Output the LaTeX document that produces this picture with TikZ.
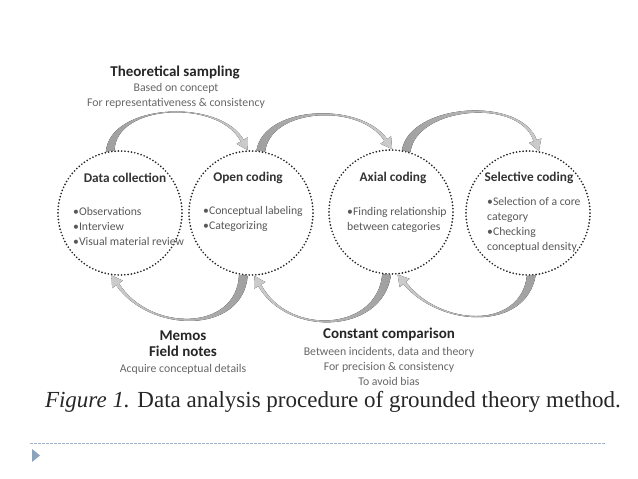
\documentclass[tikz,border=0pt]{standalone}
\usepackage{fontspec}
\setmainfont{Carlito}
\newfontfamily\capfont{Liberation Serif}
\usetikzlibrary{calc}

\definecolor{txtgray}{HTML}{585858}
\definecolor{subgray}{HTML}{666666}
\definecolor{slideblue}{HTML}{A3B4C6}
\definecolor{bulletblue}{HTML}{8CA3BC}

\tikzset{
  stage/.style={circle, minimum size=124pt, inner sep=0pt, draw=black!85,
    line width=1.9pt, dash pattern=on 0pt off 3.3pt, line cap=round},
  stagetitle/.style={font=\bfseries\fontsize{13.3}{15}\selectfont, text=black!80, inner sep=0pt},
  stagelist/.style={font=\fontsize{11.7}{15}\selectfont, text=txtgray, align=left,
    inner sep=0pt, anchor=west},
  headline/.style={font=\bfseries\fontsize{15}{16}\selectfont, text=black!85,
    inner sep=0pt, align=center},
  subline/.style={font=\fontsize{11.8}{15}\selectfont, text=subgray, inner sep=0pt, align=center},
  topfill/.style={left color=gray!75, right color=gray!40},
  botfill/.style={left color=gray!40, right color=gray!75},
}

% tapered arrow: [fill], start outer, start inner, out angle, tip, in angle, looseness
\newcommand{\swoosh}[7][]{%
  \pgfmathsetmacro\innerloose{#7*1.06}%
  \fill[#1] (#2) to[out=#4,in=#6,looseness=#7] ([shift={(#6:11)},shift={({#6-90}:1.7)}]#5)
    -- ([shift={(#6:11)},shift={({#6-90}:6.5)}]#5) -- (#5)
    -- ([shift={(#6:11)},shift={({#6+90}:6.5)}]#5)
    -- ([shift={(#6:11)},shift={({#6+90}:1.7)}]#5)
    to[out={#6-3},in={#4+3},looseness=\innerloose] (#3) -- cycle;}

\begin{document}
\begin{tikzpicture}[x=1pt,y=1pt]
\useasboundingbox (0,0) rectangle (638,479);
% the four stages
\node[stage] (collect) at (120,266) {};
\node[stage] (open) at (251,266) {};
\node[stage] (axial) at (391,267) {};
\node[stage] (selective) at (528,266) {};
\node[stagetitle] (collect-t) at ([shift={(5,35)}]collect.center) {Data collection};
\node[stagetitle] (open-t) at ([shift={(-3,35)}]open.center) {Open coding};
\node[stagetitle] (axial-t) at ([shift={(2,34)}]axial.center) {Axial coding};
\node[stagetitle] (selective-t) at ([shift={(1,35)}]selective.center) {Selective coding};
\node[stagelist] (collect-l) at ([shift={(-47,-13)}]collect.center)
  {•Observations\\•Interview\\•Visual material review};
\node[stagelist] (open-l) at ([shift={(-48,-5.5)}]open.center)
  {•Conceptual labeling\\•Categorizing};
\node[stagelist] (axial-l) at ([shift={(-44,-7.5)}]axial.center)
  {•Finding relationship\\between categories};
\node[stagelist] (selective-l) at ([shift={(-41,-12)}]selective.center)
  {•Selection of a core\\category\\•Checking\\conceptual density};
% arrows over the top
\swoosh[topfill]{collect.103}{collect.95}{85}{open.93}{120}{0.9}
\swoosh[topfill]{open.85}{open.77}{80}{axial.89}{125}{0.9}
\swoosh[topfill]{axial.80}{axial.72}{80}{selective.80}{110}{0.9}
% arrows underneath
\swoosh[botfill]{open.267}{open.259}{265}{collect.262}{-55}{1.15}
\swoosh[botfill]{axial.270}{axial.262}{262}{open.273}{-60}{1.15}
\swoosh[botfill]{selective.277}{selective.269}{260}{axial.276}{-50}{1.1}
% labels
\node[headline] (theo) at (175,406) {Theoretical sampling};
\node[subline] (theo-sub) at (176,383) {Based on concept\\For representativeness \& consistency};
\node[headline] (memos) at (183,135) {Memos\\Field notes};
\node[subline] (memos-sub) at (183,110) {Acquire conceptual details};
\node[headline] (compare) at (389,145) {Constant comparison};
\node[subline] (compare-sub) at (389,112.5)
  {Between incidents, data and theory\\For precision \& consistency\\To avoid bias};
\node[font=\capfont\fontsize{23}{27}\selectfont, text=black!85, anchor=base, inner sep=0pt]
  (caption) at (333,71) {\textit{Figure 1.} Data analysis procedure of grounded theory method.};
% slide rule and bullet
\draw[slideblue, line width=0.8pt, dash pattern=on 2.5pt off 1.5pt] (30,36) -- (605,36);
\fill[bulletblue] (32,30) -- (40,23.5) -- (32,17) -- cycle;
\end{tikzpicture}
\end{document}
